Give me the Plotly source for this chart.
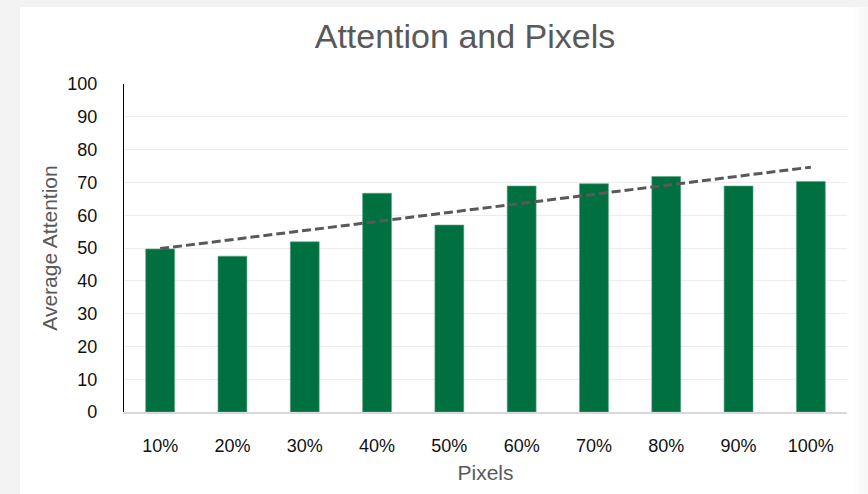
import numpy as np
import plotly.graph_objects as go

# Data
pixels = ["10%", "20%", "30%", "40%", "50%", "60%", "70%", "80%", "90%", "100%"]
attention = [49.7, 47.5, 51.9, 66.7, 57.0, 68.9, 69.6, 71.8, 68.9, 70.3]
y_ticks = [0, 10, 20, 30, 40, 50, 60, 70, 80, 90, 100]

W, H = 868, 494
L, R, T, B = 124, 21, 84, 82
pw, ph = W - L - R, H - T - B

# Linear trendline over category index
idx = np.arange(1, len(attention) + 1)
slope, intercept = np.polyfit(idx, attention, 1)
trend = slope * idx + intercept

fig = go.Figure()
fig.add_trace(go.Bar(
    x=pixels, y=attention,
    marker=dict(color="#007041", line=dict(color="#5fa583", width=0.6)),
    showlegend=False, hoverinfo="x+y",
))
fig.add_trace(go.Scatter(
    x=pixels, y=trend, mode="lines",
    line=dict(color="#595959", width=3, dash="9px,4px"),
    showlegend=False, hoverinfo="skip",
))

def px_x(p):
    return (p - L) / pw

def px_y(p):
    return (H - B - p) / ph

shapes = [
    # white card on the grey page
    dict(type="rect", xref="paper", yref="paper", layer="below",
         x0=px_x(20), x1=px_x(W + 2), y0=px_y(H + 2), y1=px_y(7),
         fillcolor="white", line=dict(width=0)),
]
# soft grey fade along the right edge
for i, a in enumerate([0.15, 0.3, 0.45, 0.6]):
    x0 = 849 + i * 5
    shapes.append(dict(type="rect", xref="paper", yref="paper", layer="above",
                       x0=px_x(x0), x1=px_x(W + 2), y0=px_y(H + 2), y1=px_y(7),
                       fillcolor="#f2f2f2", opacity=a * 0.5, line=dict(width=0)))

fig.update_layout(
    width=W, height=H,
    margin=dict(l=L, r=R, t=T, b=B),
    paper_bgcolor="#f3f3f3",
    plot_bgcolor="white",
    bargap=0.6,
    shapes=shapes,
    title=dict(text="Attention and Pixels", x=465 / W, xanchor="center",
               y=1 - 36 / H, yanchor="middle",
               font=dict(family="Liberation Sans, Arial", size=34, color="#595959")),
    xaxis=dict(
        showgrid=False, showline=True, linecolor="#d9d9d9", linewidth=1.5,
        ticks="", ticklabelstandoff=17,
        tickfont=dict(family="Liberation Sans, Arial", size=18, color="#111111"),
        title=dict(text="Pixels", standoff=10,
                   font=dict(family="Liberation Sans, Arial", size=21, color="#595959")),
    ),
    yaxis=dict(
        range=[0, 100], tickvals=y_ticks, ticktext=[str(v) for v in y_ticks],
        showgrid=True, gridcolor="#ececec", gridwidth=1,
        showline=True, linecolor="#000000", linewidth=1.2,
        zeroline=False, ticks="", ticklabelstandoff=22,
        tickfont=dict(family="Liberation Sans, Arial", size=18, color="#111111"),
        title=dict(text="Average Attention", standoff=3,
                   font=dict(family="Liberation Sans, Arial", size=21, color="#595959")),
    ),
)

fig.write_html("out.html")
